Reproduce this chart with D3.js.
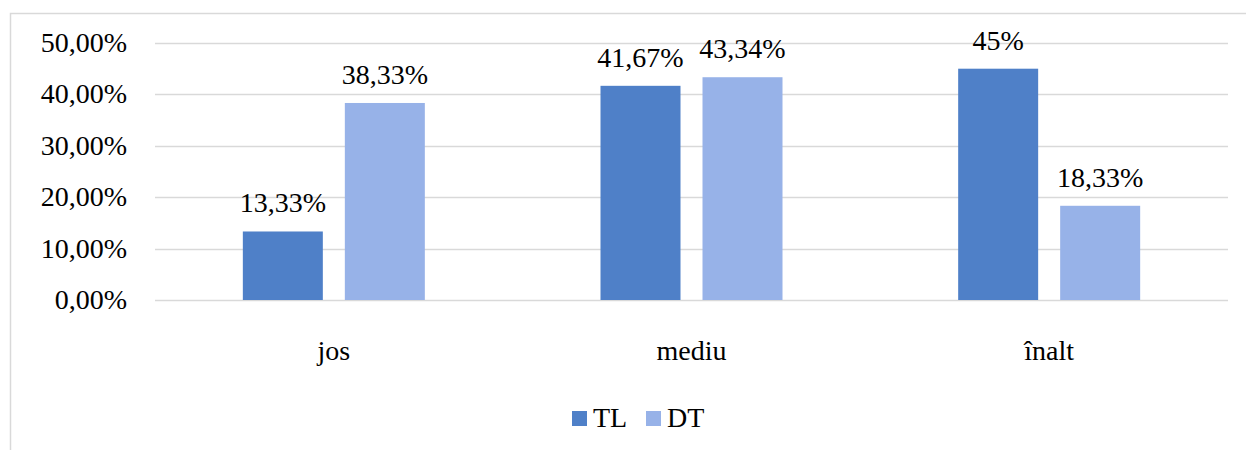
<!DOCTYPE html>
<html>
<head>
<meta charset="utf-8">
<script src="https://cdn.jsdelivr.net/npm/d3@7"></script>
<style>
  body { margin: 0; background: #fff; }
  svg text { font-family: 'Liberation Serif', 'Times New Roman', serif !important; }
</style>
</head>
<body>
<script>
var w = 1246,
    h = 450;

var categories = ["jos", "mediu", "înalt"];
var seriesNames = ["TL", "DT"];
var tlValues = [13.33, 41.67, 45];
var dtValues = [38.33, 43.34, 18.33];
var tlLabels = ["13,33%", "41,67%", "45%"];
var dtLabels = ["38,33%", "43,34%", "18,33%"];
var yTicks = [0, 10, 20, 30, 40, 50];
var colors = ["#4f80c8", "#97b2e8"];
var labelFont = "'Liberation Serif'";

var svg = d3.select("body").append("svg")
    .attr("width", w)
    .attr("height", h);

// chart frame (only top and left visible)
svg.append("path")
    .attr("d", "M10.5," + h + "V13.5H" + w)
    .attr("fill", "none")
    .attr("stroke", "#d9d9d9")
    .attr("stroke-width", 1.5);

var x0 = d3.scaleBand()
    .domain(categories)
    .range([155, 1228]);

var x1 = d3.scaleBand()
    .domain(seriesNames)
    .range([0, 182])
    .paddingInner(0.2157);

var y = d3.scaleLinear()
    .domain([0, 50])
    .range([300, 43]);

// gridlines
svg.selectAll("line.grid")
    .data(yTicks)
    .enter().append("line")
    .attr("class", "grid")
    .attr("x1", 155)
    .attr("x2", 1228)
    .attr("y1", function(d) { return Math.round(y(d)) + 0.5; })
    .attr("y2", function(d) { return Math.round(y(d)) + 0.5; })
    .attr("stroke", "#d9d9d9")
    .attr("stroke-width", 1.5);

// y tick labels
svg.selectAll("text.ytick")
    .data(yTicks)
    .enter().append("text")
    .attr("class", "ytick")
    .attr("x", 127)
    .attr("y", function(d) { return y(d) + 9; })
    .attr("text-anchor", "end")
    .text(function(d) { return d + ",00%"; });

var rows = categories.map(function(c, i) {
  return [
    {cat: c, s: "TL", v: tlValues[i], lab: tlLabels[i], col: colors[0]},
    {cat: c, s: "DT", v: dtValues[i], lab: dtLabels[i], col: colors[1]}
  ];
});

var groups = svg.selectAll("g.cat")
    .data(rows)
    .enter().append("g")
    .attr("class", "cat")
    .attr("transform", function(d) {
      return "translate(" + (x0(d[0].cat) + (x0.bandwidth() - 182) / 2) + ",0)";
    });

groups.selectAll("rect")
    .data(function(d) { return d; })
    .enter().append("rect")
    .attr("x", function(d) { return x1(d.s); })
    .attr("width", x1.bandwidth())
    .attr("y", function(d) { return y(d.v); })
    .attr("height", function(d) { return y(0) - y(d.v); })
    .attr("fill", function(d) { return d.col; });

groups.selectAll("text")
    .data(function(d) { return d; })
    .enter().append("text")
    .attr("x", function(d) { return x1(d.s) + x1.bandwidth() / 2; })
    .attr("y", function(d) { return y(d.v) - 19; })
    .attr("text-anchor", "middle")
    .text(function(d) { return d.lab; });

// category labels
svg.selectAll("text.xcat")
    .data(categories)
    .enter().append("text")
    .attr("class", "xcat")
    .attr("x", function(d) { return x0(d) + x0.bandwidth() / 2; })
    .attr("y", 360)
    .attr("text-anchor", "middle")
    .text(function(d) { return d; });

// legend
var legendX = [572, 646];
var legend = svg.selectAll("g.legend")
    .data(seriesNames)
    .enter().append("g")
    .attr("class", "legend")
    .attr("transform", function(d, i) { return "translate(" + legendX[i] + ",411)"; });

legend.append("rect")
    .attr("width", 15)
    .attr("height", 15)
    .attr("fill", function(d, i) { return colors[i]; });

legend.append("text")
    .attr("x", 21)
    .attr("y", 16)
    .text(function(d) { return d; });

// same serif face on every label
svg.selectAll("text")
    .attr("font-family", labelFont)
    .style("font-family", labelFont, "important")
    .style("font-size", "28px")
    .style("fill", "#000");
</script>
</body>
</html>
